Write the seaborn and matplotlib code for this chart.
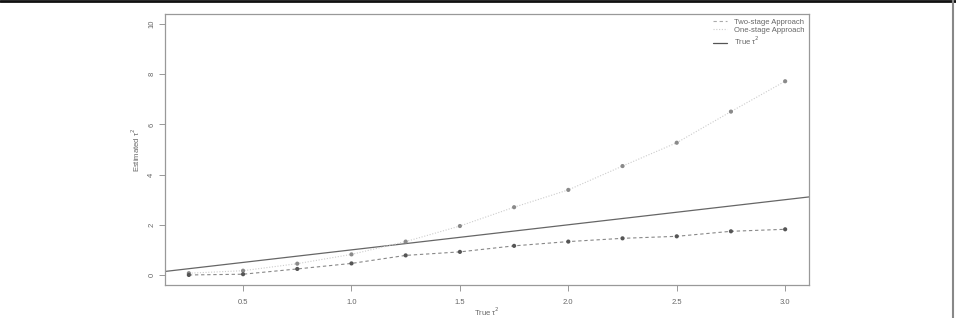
import matplotlib
matplotlib.use("Agg")
import matplotlib.pyplot as plt
import seaborn as sns
import pandas as pd
from matplotlib.lines import Line2D

true_tau2 = [0.25, 0.5, 0.75, 1.0, 1.25, 1.5, 1.75, 2.0, 2.25, 2.5, 2.75, 3.0]
two_stage = [0.00, 0.03, 0.24, 0.46, 0.78, 0.92, 1.16, 1.33, 1.46, 1.54, 1.74, 1.82]
one_stage = [0.07, 0.17, 0.45, 0.82, 1.33, 1.95, 2.70, 3.39, 4.34, 5.27, 6.51, 7.72]
x_ticks = [0.5, 1.0, 1.5, 2.0, 2.5, 3.0]
y_ticks = [0, 2, 4, 6, 8, 10]
legend_labels = ["Two-stage Approach", "One-stage Approach", "True \u03c4$^2$"]

sns.set_style("white")
plt.rcParams["font.family"] = ["Liberation Sans", "DejaVu Sans"]

df = pd.DataFrame({"x": true_tau2, "two": two_stage, "one": one_stage})

W, H = 956, 318
fig = plt.figure(figsize=(9.56, 3.18), dpi=100)
ax = fig.add_axes([165 / W, 1 - 285 / H, (809 - 165) / W, (285 - 14) / H])

sns.lineplot(data=df, x="x", y="one", ax=ax, color="#cccccc", lw=0.8,
             linestyle=(0, (1, 1.5)), zorder=2)
sns.scatterplot(data=df, x="x", y="one", ax=ax, color="#8a8a8a", s=9,
                edgecolor="none", zorder=3)
sns.lineplot(data=df, x="x", y="two", ax=ax, color="#888888", lw=0.8,
             linestyle=(0, (3, 2.5)), zorder=2)
sns.scatterplot(data=df, x="x", y="two", ax=ax, color="#555555", s=9,
                edgecolor="none", zorder=3)
ax.axline((0, 0), slope=1, color="#666666", lw=0.9, zorder=1)

ax.set_xlim(0.14, 3.11)
ax.set_ylim(-0.4, 10.4)
ax.set_xticks(x_ticks)
ax.set_xticklabels([f"{v:.1f}" for v in x_ticks])
ax.set_yticks(y_ticks)
ax.set_yticklabels([str(v) for v in y_ticks], rotation=90, va="center")
ax.tick_params(axis="both", direction="out", length=4, width=0.6, color="#888888",
               labelsize=5.5, labelcolor="#666666", left=True, bottom=True)
ax.tick_params(axis="x", pad=6)
ax.tick_params(axis="y", pad=3)
for s in ax.spines.values():
    s.set_visible(True)
    s.set_color("#999999")
    s.set_linewidth(0.9)

ax.set_xlabel("True \u03c4$^2$", fontsize=5.5, color="#666666")
ax.set_ylabel("Estimated \u03c4$^2$", fontsize=5.5, color="#666666")
ax.xaxis.set_label_coords(0.5, -(312 - 285) / (285 - 14))
ax.xaxis.label.set_va("center")
ax.yaxis.set_label_coords(-(165 - 136) / (809 - 165), 0.5)
ax.yaxis.label.set_va("center")

handles = [
    Line2D([], [], color="#aaaaaa", lw=0.8, linestyle=(0, (3, 2.5))),
    Line2D([], [], color="#cccccc", lw=0.8, linestyle=(0, (1, 1.5))),
    Line2D([], [], color="#555555", lw=0.9),
]
ax.legend(handles, legend_labels, loc="upper right", frameon=False, fontsize=5.5,
          handlelength=1.8, handletextpad=0.9, labelspacing=0.1,
          borderaxespad=0.3, borderpad=0.3, labelcolor="#666666")

fig.add_artist(Line2D([0, 1], [0.997, 0.997], transform=fig.transFigure,
                      color="#111111", lw=2.0))
fig.add_artist(Line2D([953 / W, 953 / W], [0, 1], transform=fig.transFigure,
                      color="#888888", lw=1.5))

fig.savefig("out.png", dpi=100)
